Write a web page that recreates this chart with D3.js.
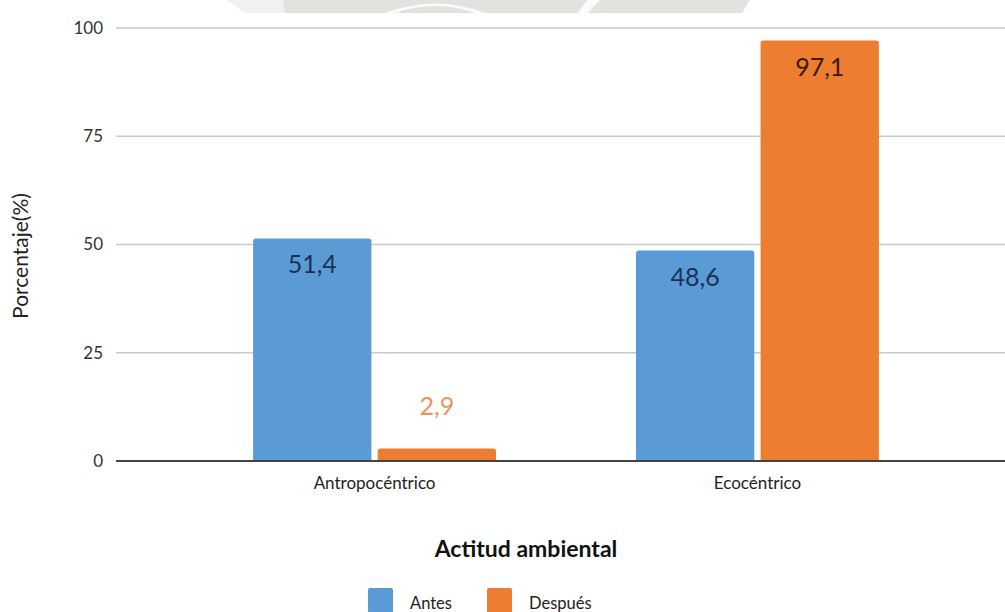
<!DOCTYPE html>
<html><head><meta charset="utf-8">
<script src="https://cdn.jsdelivr.net/npm/d3@7"></script>
<style>body{margin:0;background:#fff;} svg{display:block;font-family:Lato,"Open Sans",sans-serif;}</style>
</head><body>
<svg id="c" width="1005" height="612"></svg>
<script>
const categories = ["Antropocéntrico", "Ecocéntrico"];
const seriesNames = ["Antes", "Después"];
const antes = [51.4, 48.6];
const despues = [2.9, 97.1];
const yTicks = [0, 25, 50, 75, 100];
const colors = ["#5b9bd5", "#ed7d31"];

(function () {
const svg = d3.select("#c");
const mLeft = 116, mRight = 1016, mTop = 28, mBottom = 461;

// faint watermark at top
const wm = svg.append("g");
wm.append("path").attr("d", "M227,0 L290,0 L285,13 L245,13 Z").attr("fill", "#f1f2f0");
wm.append("path").attr("d", "M283,0 L750,0 L742,13 L285,13 Z").attr("fill", "#e0e3de");
wm.append("path").attr("d", "M385,13 Q435,-6 485,13 L475,13 Q435,-1 395,13 Z").attr("fill", "#fbfbfb");
wm.append("path").attr("d", "M587,0 L600,0 L588,13 L578,13 Z").attr("fill", "#fbfbfb");

const x = d3.scaleBand().domain(categories).range([mLeft, mRight]).paddingInner(0.3655).paddingOuter(0.358);
const xi = d3.scaleBand().domain(seriesNames).range([0, x.bandwidth()]).paddingInner(0.05);
const y = d3.scaleLinear().domain([0, 100]).range([mBottom, mTop]);

// gridlines + y labels
const yAxis = d3.axisLeft(y).tickValues(yTicks).tickSize(0).tickPadding(0);
const ga = svg.append("g").attr("transform", `translate(${mLeft},0)`).call(yAxis);
ga.select(".domain").remove();
ga.selectAll("text").attr("x", -13).attr("font-size", 17).attr("fill", "#333").attr("font-family", "Lato, sans-serif");
svg.append("g").selectAll("line").data(yTicks.filter(d => d > 0)).join("line")
  .attr("x1", mLeft).attr("x2", mRight).attr("y1", d => y(d)).attr("y2", d => y(d))
  .attr("stroke", "#c9c9c9").attr("stroke-width", 1.5);

const data = categories.map((c, i) => ({cat: c, vals: [{s: seriesNames[0], v: antes[i], k: 0}, {s: seriesNames[1], v: despues[i], k: 1}]}));

const rr = 3;
function barPath(x0, w, yT, yB) {
  return `M${x0},${yB} L${x0},${yT + rr} Q${x0},${yT} ${x0 + rr},${yT} L${x0 + w - rr},${yT} Q${x0 + w},${yT} ${x0 + w},${yT + rr} L${x0 + w},${yB} Z`;
}

const g = svg.append("g").selectAll("g").data(data).join("g")
  .attr("transform", d => `translate(${x(d.cat)},0)`);
g.selectAll("path").data(d => d.vals).join("path")
  .attr("d", d => barPath(xi(d.s), xi.bandwidth(), y(d.v), y(0)))
  .attr("fill", d => colors[d.k]);

// value labels
g.selectAll("text").data(d => d.vals).join("text")
  .attr("x", d => xi(d.s) + xi.bandwidth() / 2)
  .attr("y", d => d.v > 10 ? y(d.v) + 35 : y(d.v) - 33)
  .attr("text-anchor", "middle")
  .attr("font-size", 25)
  .attr("fill", d => d.v > 10 ? (d.k === 0 ? "#1c2f55" : "#3a1a0c") : "#e8955a")
  .text(d => d3.format(".1f")(d.v).replace(".", ","));

// baseline
svg.append("line").attr("x1", mLeft).attr("x2", mRight).attr("y1", y(0)).attr("y2", y(0))
  .attr("stroke", "#444").attr("stroke-width", 2);

// x labels
const xAxis = d3.axisBottom(x).tickSize(0).tickPadding(0);
const gx = svg.append("g").attr("transform", `translate(0,${mBottom})`).call(xAxis);
gx.select(".domain").remove();
gx.selectAll("text").attr("y", 23).attr("dy", "0.32em").attr("font-size", 17).attr("fill", "#222").attr("font-family", "Lato, sans-serif");

// axis titles
svg.append("text").attr("transform", `translate(28,256) rotate(-90)`)
  .attr("text-anchor", "middle").attr("font-size", 21).attr("fill", "#222").text("Porcentaje(%)");
svg.append("text").attr("x", 526).attr("y", 557).attr("text-anchor", "middle")
  .attr("font-size", 23).attr("font-weight", "bold").attr("fill", "#111").text("Actitud ambiental");

// legend
const lx = [368, 487];
const lg = svg.append("g").selectAll("g").data(seriesNames).join("g")
  .attr("transform", (d, i) => `translate(${lx[i]},588)`);
lg.append("rect").attr("width", 25).attr("height", 25).attr("rx", 2).attr("fill", (d, i) => colors[i]);
lg.append("text").attr("x", 42).attr("y", 21).attr("font-size", 16.5).attr("fill", "#222").text(d => d);
})();
</script>
</body></html>
